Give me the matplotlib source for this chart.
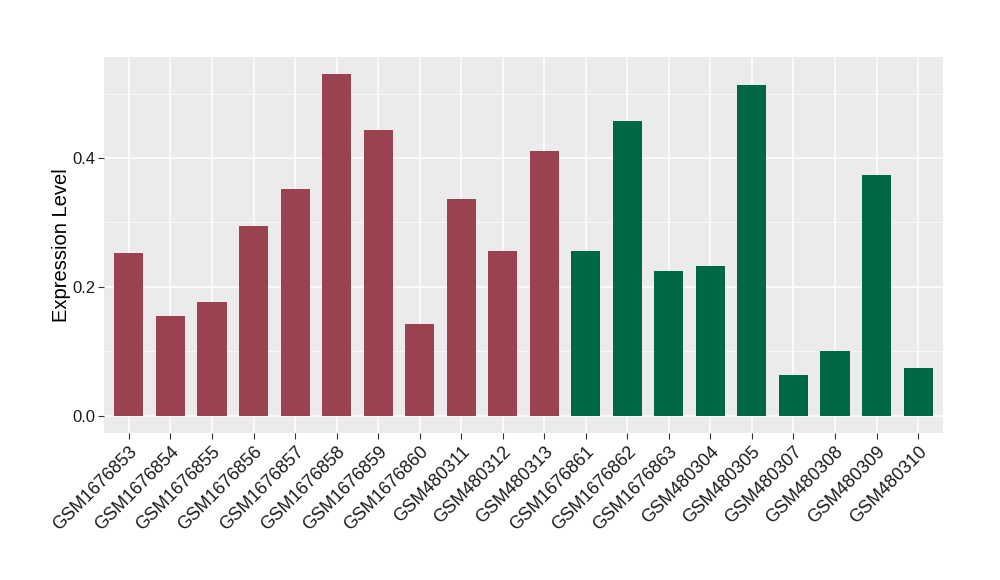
import matplotlib
matplotlib.use("Agg")
import matplotlib.pyplot as plt
import matplotlib.transforms as mtransforms

samples = ["GSM1676853", "GSM1676854", "GSM1676855", "GSM1676856", "GSM1676857",
           "GSM1676858", "GSM1676859", "GSM1676860", "GSM480311", "GSM480312",
           "GSM480313", "GSM1676861", "GSM1676862", "GSM1676863", "GSM480304",
           "GSM480305", "GSM480307", "GSM480308", "GSM480309", "GSM480310"]
values = [0.253, 0.155, 0.177, 0.295, 0.352, 0.530, 0.443, 0.143, 0.336, 0.256,
          0.411, 0.256, 0.457, 0.225, 0.233, 0.513, 0.064, 0.101, 0.374, 0.074]
groups = ["a"] * 11 + ["b"] * 9
group_colors = {"a": "#9A4250", "b": "#006747"}

plt.rcParams['font.family'] = ['Liberation Sans', 'DejaVu Sans']

fig = plt.figure(figsize=(10, 5.8), dpi=100)
ax = fig.add_axes([0.104, 1 - 433 / 580, 0.839, 376 / 580])

x = list(range(len(samples)))
ax.set_facecolor("#EBEBEB")
ax.bar(x, values, width=0.7, color=[group_colors[g] for g in groups], zorder=3)

ax.set_xlim(-0.6, len(samples) - 0.4)
ax.set_ylim(-0.0264, 0.5566)
ax.set_yticks([0.0, 0.2, 0.4])
ax.set_yticklabels(["0.0", "0.2", "0.4"])
ax.set_yticks([0.1, 0.3, 0.5], minor=True)
ax.set_xticks(x)
ax.set_xticklabels(samples, rotation=45, ha="right", rotation_mode="anchor", fontsize=13)
# nudge the rotated labels a little right, like ggplot's hjust anchoring
shift = mtransforms.ScaledTranslation(4 / 100, 0, fig.dpi_scale_trans)
for lab in ax.get_xticklabels():
    lab.set_transform(lab.get_transform() + shift)

ax.grid(True, which="major", color="white", linewidth=1.1, zorder=0)
ax.grid(True, which="minor", axis="y", color="white", linewidth=0.5, zorder=0)
ax.tick_params(axis="y", which="minor", length=0)
ax.tick_params(axis="both", which="major", length=4, color="#333333", labelcolor="#1a1a1a")
ax.tick_params(axis="y", labelsize=12, pad=2)
for s in ax.spines.values():
    s.set_visible(False)

ax.set_ylabel("Expression Level", fontsize=14.5)
ax.yaxis.set_label_coords(-0.039, 0.5)

fig.savefig("out.png", dpi=100)
